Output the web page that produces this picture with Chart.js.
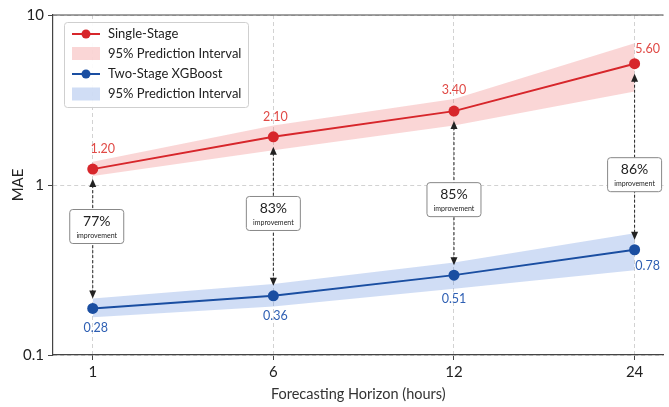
<!DOCTYPE html>
<html>
<head>
<meta charset="utf-8">
<script src="https://cdn.jsdelivr.net/npm/chart.js@4.4.1/dist/chart.umd.min.js"></script>
<style>
  html, body { margin: 0; padding: 0; background: #fff; }
  #wrap { width: 669px; height: 407px; }
</style>
</head>
<body>
<div id="wrap"><canvas id="mae-chart" width="669" height="407"></canvas></div>
<script>
(function () {
    "use strict";

    // Data
    var horizons = ["1", "6", "12", "24"];
    var singleStage = [1.24, 1.92, 2.72, 5.17];
    var singleLow = [1.13, 1.60, 2.24, 3.55];
    var singleHigh = [1.37, 2.24, 3.21, 6.83];
    var twoStage = [0.188, 0.223, 0.295, 0.416];
    var twoLow = [0.167, 0.193, 0.245, 0.315];
    var twoHigh = [0.215, 0.262, 0.350, 0.520];
    var singleLabels = ["1.20", "2.10", "3.40", "5.60"];
    var twoLabels = ["0.28", "0.36", "0.51", "0.78"];
    var improvement = ["77%", "83%", "85%", "86%"];
    var yTicks = [0.1, 1, 10];

    var RED = "#d7262b", RED_TXT = "#e04a46", RED_BAND = "rgba(240,120,120,0.30)";
    var BLUE = "#1a4ea1", BLUE_TXT = "#2e5fb3", BLUE_BAND = "rgba(110,150,225,0.32)";
    var FONT = "Lato, 'Open Sans', sans-serif";

    function pts(arr) {
        return arr.map(function (v, i) { return { x: i, y: v }; });
    }

    // Labels, improvement boxes, legend and frame
    var annotate = {
        id: "annotate",
        afterDatasetsDraw: function (chart) {
            var ctx = chart.ctx, area = chart.chartArea;
            var red = chart.getDatasetMeta(4).data;
            var blue = chart.getDatasetMeta(5).data;
            var ys = chart.scales.y;
            var redDx = [10, 2, 0, 13], blueDx = [3, 2, 0, 13], blueDy = [20, 20, 24, 16], redDy = [-20, -20, -21, -15];
            var boxAt = [0.57, 0.68, 0.82, 1.15];

            ctx.save();
            // top frame line
            ctx.strokeStyle = "#444"; ctx.lineWidth = 1.2;
            ctx.beginPath(); ctx.moveTo(area.left, area.top); ctx.lineTo(area.right, area.top); ctx.stroke();

            ctx.textAlign = "center"; ctx.textBaseline = "middle";
            for (var i = 0; i < horizons.length; i++) {
                var r = red[i], b = blue[i];
                // double arrow
                var y1 = r.y + 10, y2 = b.y - 10;
                ctx.strokeStyle = "#222"; ctx.lineWidth = 1; ctx.setLineDash([3, 2]);
                ctx.beginPath(); ctx.moveTo(r.x, y1 + 6); ctx.lineTo(r.x, y2 - 6); ctx.stroke();
                ctx.setLineDash([]);
                ctx.fillStyle = "#222";
                ctx.beginPath(); ctx.moveTo(r.x, y1); ctx.lineTo(r.x - 3.5, y1 + 8); ctx.lineTo(r.x + 3.5, y1 + 8); ctx.closePath(); ctx.fill();
                ctx.beginPath(); ctx.moveTo(r.x, y2); ctx.lineTo(r.x - 3.5, y2 - 8); ctx.lineTo(r.x + 3.5, y2 - 8); ctx.closePath(); ctx.fill();

                // improvement box
                var cx = r.x + (i === 0 ? 4 : 0), cy = ys.getPixelForValue(boxAt[i]);
                ctx.fillStyle = "#fff"; ctx.strokeStyle = "#888"; ctx.lineWidth = 1;
                ctx.beginPath(); ctx.roundRect(cx - 27, cy - 17, 54, 34, 3); ctx.fill(); ctx.stroke();
                ctx.fillStyle = "#222";
                ctx.font = "14px " + FONT; ctx.fillText(improvement[i], cx, cy - 5);
                ctx.font = "7px " + FONT; ctx.fillText("improvement", cx, cy + 9);

                // value labels
                ctx.font = "12.5px " + FONT;
                ctx.fillStyle = RED_TXT; ctx.fillText(singleLabels[i], r.x + redDx[i], r.y + redDy[i]);
                ctx.fillStyle = BLUE_TXT; ctx.fillText(twoLabels[i], b.x + blueDx[i], b.y + blueDy[i]);
            }

            // legend
            ctx.fillStyle = "rgba(255,255,255,0.92)"; ctx.strokeStyle = "#cfcfcf"; ctx.lineWidth = 1;
            ctx.beginPath(); ctx.roundRect(64.5, 22.5, 184, 85, 3); ctx.fill(); ctx.stroke();
            var rows = [
                { y: 34, kind: "line", color: RED, text: "Single-Stage" },
                { y: 53.5, kind: "band", color: RED_BAND, text: "95% Prediction Interval" },
                { y: 74, kind: "line", color: BLUE, text: "Two-Stage XGBoost" },
                { y: 94, kind: "band", color: BLUE_BAND, text: "95% Prediction Interval" }
            ];
            ctx.textAlign = "left"; ctx.font = "13px " + FONT;
            rows.forEach(function (row) {
                if (row.kind === "line") {
                    ctx.strokeStyle = row.color; ctx.lineWidth = 2;
                    ctx.beginPath(); ctx.moveTo(72, row.y); ctx.lineTo(100, row.y); ctx.stroke();
                    ctx.fillStyle = row.color;
                    ctx.beginPath(); ctx.arc(86, row.y, 4.5, 0, Math.PI * 2); ctx.fill();
                } else {
                    ctx.fillStyle = row.color; ctx.fillRect(72, row.y - 6.5, 28, 13);
                }
                ctx.fillStyle = "#222";
                ctx.fillText(row.text, 108, row.y);
            });
            ctx.restore();
        }
    };

    var ctx = document.getElementById("mae-chart").getContext("2d");
    var maeChart = new Chart(ctx, {
        type: "line",
        data: {
            datasets: [
                { data: pts(singleLow), borderWidth: 0, pointRadius: 0, fill: false, order: 2 },
                { data: pts(singleHigh), borderWidth: 0, pointRadius: 0, backgroundColor: RED_BAND, fill: "-1", order: 2 },
                { data: pts(twoLow), borderWidth: 0, pointRadius: 0, fill: false, order: 2 },
                { data: pts(twoHigh), borderWidth: 0, pointRadius: 0, backgroundColor: BLUE_BAND, fill: "-1", order: 2 },
                { label: "Single-Stage", data: pts(singleStage), borderColor: RED, backgroundColor: RED,
                  borderWidth: 2, pointRadius: 5.5, pointBorderWidth: 0, order: 1 },
                { label: "Two-Stage XGBoost", data: pts(twoStage), borderColor: BLUE, backgroundColor: BLUE,
                  borderWidth: 2, pointRadius: 5.5, pointBorderWidth: 0, order: 1 }
            ]
        },
        options: {
            responsive: false,
            animation: false,
            layout: { padding: { top: 15, right: 1, left: 0, bottom: 0 } },
            plugins: { legend: { display: false }, tooltip: { enabled: false } },
            scales: {
                x: {
                    type: "linear",
                    min: -0.22,
                    max: 3.16,
                    afterBuildTicks: function (scale) {
                        scale.ticks = horizons.map(function (h, i) { return { value: i }; });
                    },
                    afterFit: function (scale) { scale.height = 52; },
                    ticks: {
                        color: "#222", font: { family: FONT, size: 15 }, padding: 3,
                        callback: function (v) { return horizons[v]; }
                    },
                    grid: { color: "#d2d2d2", tickLength: 5, tickColor: "#444", tickBorderDash: [] },
                    border: { color: "#444", width: 1.2, dash: [4, 3] },
                    title: { display: true, text: "Forecasting Horizon (hours)", color: "#333",
                             font: { family: FONT, size: 14.5 }, padding: { top: 0, bottom: 4 } }
                },
                y: {
                    type: "logarithmic",
                    min: 0.1,
                    max: 10,
                    afterBuildTicks: function (scale) {
                        scale.ticks = yTicks.map(function (v) { return { value: v }; });
                    },
                    afterFit: function (scale) { scale.width = 53; },
                    ticks: {
                        color: "#222", font: { family: FONT, size: 15 }, padding: 4,
                        callback: function (v) { return String(v); }
                    },
                    grid: { color: "#d2d2d2", tickLength: 5, tickColor: "#444", tickBorderDash: [] },
                    border: { color: "#444", width: 1.2, dash: [4, 3] },
                    title: { display: true, text: "MAE", color: "#222",
                             font: { family: FONT, size: 15 }, padding: { top: 9, bottom: 0 } }
                }
            }
        },
        plugins: [annotate]
    });
})();
</script>
</body>
</html>
